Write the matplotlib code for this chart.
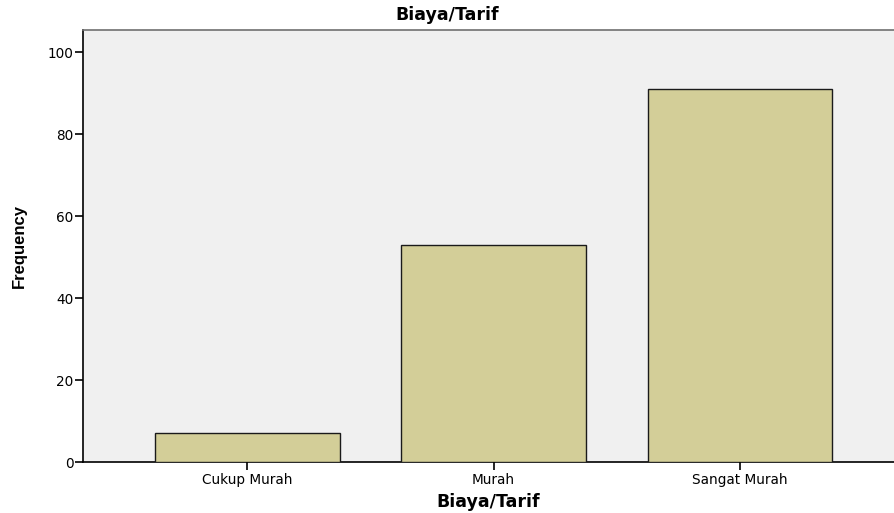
import matplotlib
matplotlib.use("Agg")
import matplotlib.pyplot as plt

categories = ["Cukup Murah", "Murah", "Sangat Murah"]
values = [7, 53, 91]
yticks = [0, 20, 40, 60, 80, 100]

plt.rcParams['font.family'] = ['DejaVu Sans']

fig = plt.figure(figsize=(8.94, 5.13), dpi=100)
ax = fig.add_axes([83/894, 51/513, 1 - 83/894, (462-30)/513])
ax.set_facecolor('#f0f0f0')

x = list(range(len(categories)))
ax.bar(x, values, width=0.75, color='#d3ce98', edgecolor='#1a1a1a', linewidth=1.0, zorder=3)

ax.set_xlim(-0.666, 2.625)
ax.set_ylim(0, 105.4)
ax.set_yticks(yticks)
ax.set_xticks(x)
ax.set_xticklabels(categories)
ax.tick_params(axis='both', direction='out', length=6, width=1.2, color='black', labelsize=9.8)
ax.tick_params(axis='y', pad=1)
ax.tick_params(axis='x', pad=2)

for s in ['left', 'bottom']:
    ax.spines[s].set_color('black')
    ax.spines[s].set_linewidth(1.2)
ax.spines['top'].set_color('#707070')
ax.spines['top'].set_linewidth(1.2)
ax.spines['right'].set_visible(False)

ax.set_xlabel("Biaya/Tarif", fontsize=12.5, fontweight='bold', labelpad=4)
ax.set_ylabel("Frequency", fontsize=12, fontweight='bold', labelpad=15,
              family=['Liberation Sans Narrow', 'Liberation Sans', 'DejaVu Sans'])
fig.text(0.5, 1 - 15/513, "Biaya/Tarif", ha='center', va='center', fontsize=12.5, fontweight='bold')

fig.savefig("out.png", dpi=100)
